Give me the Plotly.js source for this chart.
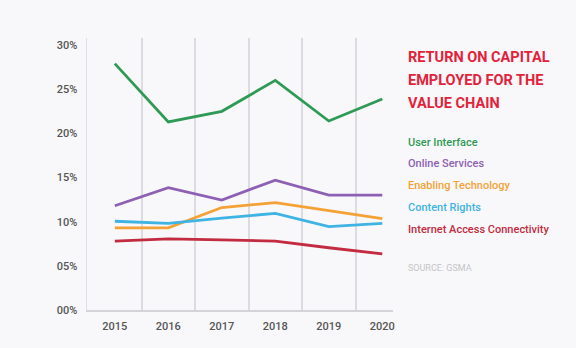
<!DOCTYPE html>
<html>
<head>
<meta charset="utf-8">
<script src="https://cdn.plot.ly/plotly-3.0.1.min.js"></script>
<style>html,body{margin:0;padding:0;background:#f8f8fa;}#chart{width:576px;height:348px;}</style>
</head>
<body>
<div id="chart"></div>
<script>
const years = [2015, 2016, 2017, 2018, 2019, 2020];
const seriesNames = ["User Interface", "Online Services", "Enabling Technology", "Content Rights", "Internet Access Connectivity"];
const userInterface = [27.9, 21.3, 22.5, 26.0, 21.4, 23.9];
const onlineServices = [11.8, 13.85, 12.45, 14.7, 13.0, 13.0];
const enablingTechnology = [9.3, 9.3, 11.6, 12.15, 11.25, 10.35];
const contentRights = [10.05, 9.8, 10.4, 10.95, 9.45, 9.8];
const internetAccess = [7.8, 8.05, 7.95, 7.8, 7.05, 6.35];
const yTickVals = [0, 5, 10, 15, 20, 25, 30];
const yTickText = ["00%", "05%", "10%", "15%", "20%", "25%", "30%"];
const gridVals = [2015.5, 2016.5, 2017.5, 2018.5, 2019.5];
const titleLines = ["RETURN ON CAPITAL", "EMPLOYED FOR THE", "VALUE CHAIN"];
const sourceText = "SOURCE: GSMA";

const colors = ["#2f9a55", "#8e60b4", "#f4a236", "#3fb3e3", "#c22b40"];
const allSeries = [userInterface, onlineServices, enablingTechnology, contentRights, internetAccess];

const traces = allSeries.map((vals, i) => ({
  x: years, y: vals, name: seriesNames[i], type: "scatter", mode: "lines",
  line: {color: colors[i], width: 2.8}, hoverinfo: "skip"
}));

// paper-y helper from pixel row (plot area spans rows 38..310)
const py = (row) => (310 - row) / 272;
const textX = 1.042;

const annotations = [];
titleLines.forEach((t, i) => {
  annotations.push({
    xref: "paper", yref: "paper", x: textX, y: py(58 + i * 22.5), xanchor: "left", yanchor: "middle",
    showarrow: false, text: "<b>" + t + "</b>",
    font: {family: "Roboto, sans-serif", size: 14.5, color: "#e3223a"}
  });
});
seriesNames.forEach((n, i) => {
  annotations.push({
    xref: "paper", yref: "paper", x: textX, y: py(142 + i * 21.8),
    xanchor: "left", yanchor: "middle", showarrow: false,
    text: n, font: {family: "Roboto, sans-serif", size: 11, color: colors[i], weight: 500}
  });
});
annotations.push({
  xref: "paper", yref: "paper", x: textX, y: py(268), xanchor: "left", yanchor: "middle",
  showarrow: false, text: sourceText,
  font: {family: "Roboto, sans-serif", size: 9, color: "#c4c4c8"}
});

const layout = {
  width: 576, height: 348,
  margin: {l: 87, r: 183, t: 38, b: 38},
  paper_bgcolor: "#f8f8fa", plot_bgcolor: "#f8f8fa",
  showlegend: false,
  xaxis: {
    range: [2014.48, 2020.2], tickvals: years, ticktext: years.map(String),
    showgrid: false, zeroline: false, showline: true, linecolor: "#d4d4d8", linewidth: 1.5,
    ticks: "", ticklabelstandoff: 5,
    tickfont: {family: "Roboto, sans-serif", size: 11, color: "#555", weight: 500},
    minor: {tickvals: gridVals, showgrid: true, gridcolor: "#dcdce0", gridwidth: 2, ticks: ""}
  },
  yaxis: {
    range: [0, 30.8], tickvals: yTickVals, ticktext: yTickText,
    showgrid: false, zeroline: false, showline: true, linecolor: "#e0e0e4", linewidth: 1.5,
    ticks: "", ticklabelstandoff: 6,
    tickfont: {family: "Roboto, sans-serif", size: 11, color: "#555", weight: 500}
  },
  annotations: annotations
};

Plotly.newPlot("chart", traces, layout, {displayModeBar: false, staticPlot: true});
</script>
</body>
</html>
